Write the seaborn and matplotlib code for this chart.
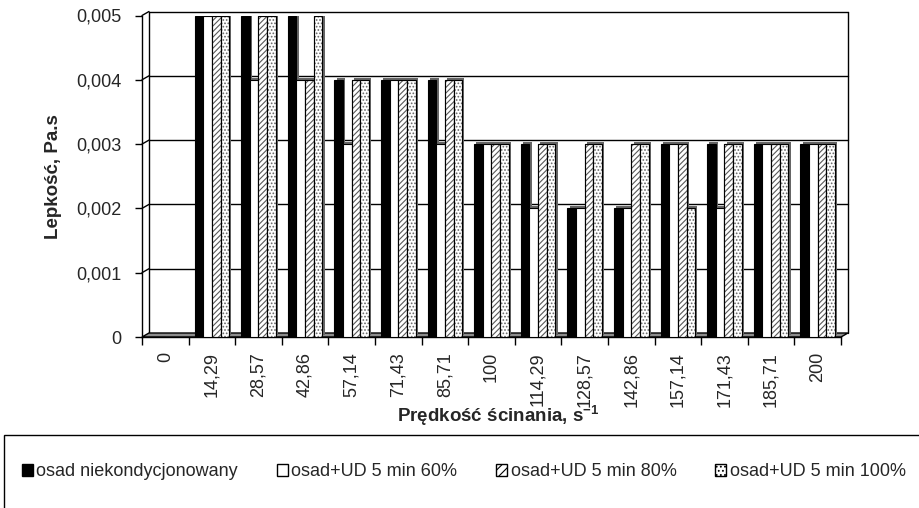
import numpy as np
import pandas as pd
import matplotlib
matplotlib.use("Agg")
import matplotlib.pyplot as plt
import matplotlib.patheffects as pe
from matplotlib.patches import Patch, Polygon, Rectangle
from matplotlib.lines import Line2D
import seaborn as sns

# ---- data -------------------------------------------------------------
shear_rates = ["0", "14,29", "28,57", "42,86", "57,14", "71,43", "85,71", "100",
               "114,29", "128,57", "142,86", "157,14", "171,43", "185,71", "200"]
raw_sludge = [0, 0.005, 0.005, 0.005, 0.004, 0.004, 0.004, 0.003,
              0.003, 0.002, 0.002, 0.003, 0.003, 0.003, 0.003]
ud_60 = [0, 0.005, 0.004, 0.004, 0.003, 0.004, 0.003, 0.003,
         0.002, 0.002, 0.002, 0.003, 0.002, 0.003, 0.003]
ud_80 = [0, 0.005, 0.005, 0.004, 0.004, 0.004, 0.004, 0.003,
         0.003, 0.003, 0.003, 0.003, 0.003, 0.003, 0.003]
ud_100 = [0, 0.005, 0.005, 0.005, 0.004, 0.004, 0.004, 0.003,
          0.003, 0.003, 0.003, 0.002, 0.003, 0.003, 0.003]
series_names = ["osad niekondycjonowany", "osad+UD 5 min 60%",
                "osad+UD 5 min 80%", "osad+UD 5 min 100%"]
y_ticks = [0, 0.001, 0.002, 0.003, 0.004, 0.005]
y_tick_labels = ["0", "0,001", "0,002", "0,003", "0,004", "0,005"]
x_title = r"Prędkość ścinania, s$^{\mathbf{-1}}$"
y_title = "Lepkość, Pa.s"

# ---- style ------------------------------------------------------------
sns.set_theme(style="white")
plt.rcParams["font.family"] = ["Liberation Sans", "DejaVu Sans"]
plt.rcParams["mathtext.fontset"] = "custom"
plt.rcParams["mathtext.rm"] = "Liberation Sans"
plt.rcParams["mathtext.bf"] = "Liberation Sans:bold"
plt.rcParams["hatch.linewidth"] = 0.8

W, H, DPI = 920, 508, 100
fig = plt.figure(figsize=(W / DPI, H / DPI), dpi=DPI, facecolor="white")

# front plane of the 3-D box (pixels)
fx0, fx1, fy0, fy1 = 142, 841, 337, 15.5
ax = fig.add_axes([fx0 / W, 1 - fy0 / H, (fx1 - fx0) / W, (fy0 - fy1) / H])
ax.set_facecolor("none")

# depth of the box in axes fractions
ddx = 7 / (fx1 - fx0)
ddy = 4 / (fy0 - fy1)
ymax = y_ticks[-1]

# ---- back wall, floor, left wall --------------------------------------
kw = dict(transform=ax.transAxes, clip_on=False, color="black", lw=1.0, zorder=0.6)
for v in y_ticks[1:]:
    f = v / ymax
    ax.add_line(Line2D([ddx, 1 + ddx], [f + ddy, f + ddy], **kw))
    ax.add_line(Line2D([0, ddx], [f, f + ddy], **kw))
ax.add_line(Line2D([ddx, ddx], [ddy, 1 + ddy], **kw))
ax.add_line(Line2D([1 + ddx, 1 + ddx], [ddy, 1 + ddy], **kw))
floor = Polygon([(0, 0), (1, 0), (1 + ddx, ddy), (ddx, ddy)], closed=True,
                transform=ax.transAxes, clip_on=False, facecolor="0.55",
                edgecolor="black", lw=1.0, zorder=0.7)
ax.add_patch(floor)

# ---- bars -------------------------------------------------------------
df = pd.DataFrame({
    "shear": shear_rates * 4,
    "series": np.repeat(series_names, len(shear_rates)),
    "visc": raw_sludge + ud_60 + ud_80 + ud_100,
})
sns.barplot(data=df, x="shear", y="visc", hue="series", order=shear_rates,
            hue_order=series_names, palette=["black", "white", "white", "white"],
            saturation=1, width=0.74, edgecolor="black", linewidth=0.8,
            legend=False, ax=ax, zorder=2)

hatches = [None, None, "//////", "....."]
hatch_inks = ["black", "black", "0.35", "0.4"]
for bars, hatch, ink in zip(ax.containers, hatches, hatch_inks):
    for bar in bars:
        effects = [pe.SimplePatchShadow(offset=(1.6, 1.4), shadow_rgbFace="0.4",
                                        alpha=1.0, hatch=None),
                   pe.Normal()]
        if hatch:
            bar.set_hatch(hatch)
            bar.set_edgecolor(ink)
            effects.append(pe.PathPatchEffect(facecolor="none", edgecolor="black",
                                              linewidth=0.8))
        bar.set_path_effects(effects)

# ---- axes -------------------------------------------------------------
ax.set_ylim(0, ymax)
ax.set_xlim(-0.5, len(shear_rates) - 0.5)
for side in ["top", "right"]:
    ax.spines[side].set_visible(False)
for side in ["left", "bottom"]:
    ax.spines[side].set_visible(True)
    ax.spines[side].set_color("black")
    ax.spines[side].set_linewidth(1.0)
    ax.spines[side].set_zorder(0.8)

ax.set_yticks(y_ticks)
ax.set_yticklabels(y_tick_labels)
ax.tick_params(axis="y", which="major", direction="out", length=5, width=1,
               color="black", pad=9.5, labelsize=13, left=True)

ax.set_xticks(range(len(shear_rates)))
ax.set_xticklabels(shear_rates, rotation=90)
ax.set_xticks(np.arange(-0.5, len(shear_rates)), minor=True)
ax.tick_params(axis="x", which="major", length=0, pad=10.8, labelsize=13)
ax.tick_params(axis="x", which="minor", direction="out", length=5.8, width=1,
               color="black", bottom=True)

ax.set_xlabel(x_title, fontsize=13.5, fontweight="bold")
ax.xaxis.set_label_coords((498 - fx0) / (fx1 - fx0), -(403 - fy0) / (fy0 - fy1))
ax.set_ylabel(y_title, fontsize=13.5, fontweight="bold")
ax.yaxis.set_label_coords(-0.114, 0.5)

# ---- legend -----------------------------------------------------------
fig.add_artist(Rectangle((4 / W, -0.2), 2.0, (1 - 435 / H) + 0.2,
                         transform=fig.transFigure, facecolor="none",
                         edgecolor="black", lw=1.0))
handles = [Patch(facecolor=fc, edgecolor="black", hatch=h, linewidth=1.0)
           for fc, h in zip(["black", "white", "white", "white"],
                            [None, None, "////", "...."])]
fig.legend(handles, series_names, loc="center left",
           bbox_to_anchor=(22 / W, 1 - 472 / H), ncol=4, frameon=False,
           fontsize=13, handlelength=0.6, handleheight=0.6, handletextpad=0.2,
           columnspacing=2.15, borderaxespad=0, borderpad=0)

fig.savefig("out.png", dpi=DPI, facecolor="white")
